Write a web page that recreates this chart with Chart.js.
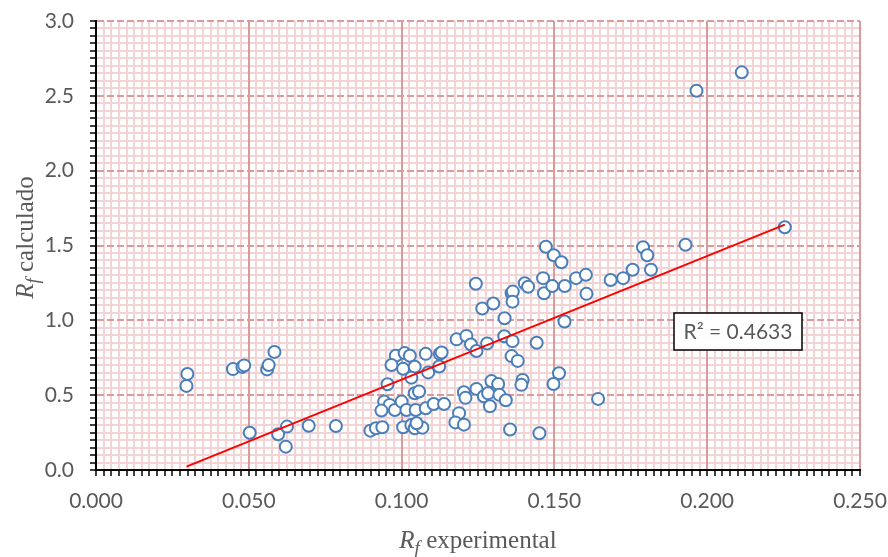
<!DOCTYPE html>
<html><head><meta charset="utf-8">
<script src="https://cdn.jsdelivr.net/npm/chart.js@4.4.0/dist/chart.umd.min.js"></script>
<style>html,body{margin:0;padding:0;background:#fff}#wrap{width:888px;height:557px;position:relative}</style>
</head><body><div id="wrap"><canvas id="c"></canvas></div>
<script>
// ---- data ----
const xExperimental = [
 0.0299,0.0296,0.0448,0.0479,0.0485,0.0503,0.0560,0.0565,0.0584,0.0596,
 0.0625,0.0621,0.0696,0.0785,0.0898,0.0916,0.0937,0.1005,0.1032,0.1043,
 0.1068,0.1049,0.0943,0.0961,0.0934,0.0978,0.1000,0.1016,0.1046,0.1079,
 0.1105,0.1139,0.1043,0.1057,0.0954,0.0981,0.1010,0.1027,0.1079,0.1125,
 0.1131,0.0967,0.1005,0.1043,0.1032,0.1087,0.1123,0.1180,0.1212,0.1227,
 0.1245,0.1280,0.1336,0.1363,0.1360,0.1380,0.1442,0.1188,0.1176,0.1204,
 0.1204,0.1209,0.1245,0.1269,0.1283,0.1294,0.1316,0.1320,0.1341,0.1289,
 0.1355,0.1396,0.1392,0.1451,0.1515,0.1497,0.1643,0.1243,0.1264,0.1300,
 0.1337,0.1360,0.1364,0.1363,0.1403,0.1414,0.1463,0.1466,0.1493,0.1534,
 0.1571,0.1603,0.1605,0.1684,0.1725,0.1756,0.1472,0.1498,0.1523,0.1790,
 0.1804,0.1816,0.1929,0.1965,0.2113,0.2254,0.1533
];
const yCalculado = [
 0.642,0.562,0.674,0.689,0.699,0.249,0.672,0.701,0.789,0.239,
 0.290,0.156,0.296,0.294,0.263,0.279,0.286,0.286,0.301,0.279,
 0.283,0.312,0.457,0.435,0.397,0.401,0.457,0.401,0.401,0.412,
 0.441,0.441,0.513,0.524,0.573,0.763,0.781,0.763,0.776,0.776,
 0.785,0.702,0.676,0.690,0.617,0.652,0.692,0.873,0.896,0.839,
 0.795,0.846,0.894,0.861,0.761,0.729,0.850,0.380,0.318,0.303,
 0.519,0.482,0.542,0.493,0.512,0.594,0.575,0.502,0.466,0.426,
 0.271,0.602,0.569,0.246,0.646,0.575,0.475,1.244,1.079,1.112,
 1.014,1.181,1.192,1.125,1.248,1.224,1.282,1.181,1.229,1.229,
 1.282,1.304,1.177,1.269,1.282,1.338,1.492,1.435,1.388,1.488,
 1.435,1.338,1.505,2.534,2.657,1.622,0.992
];
const xTickLabels = ['0.000','0.050','0.100','0.150','0.200','0.250'];
const yTickLabels = ['0.0','0.5','1.0','1.5','2.0','2.5','3.0'];
const r2Label = 'R\u00B2 = 0.4633';
const xTitleParts = ['R','f',' experimental'];
const yTitleParts = ['R','f',' calculado'];

// ---- linear trendline (least squares of the data) ----
const n = xExperimental.length;
const mx = xExperimental.reduce((a,b)=>a+b,0)/n;
const my = yCalculado.reduce((a,b)=>a+b,0)/n;
let sxy=0, sxx=0;
for (let i=0;i<n;i++){ sxy+=(xExperimental[i]-mx)*(yCalculado[i]-my); sxx+=(xExperimental[i]-mx)**2; }
const slope = sxy/sxx, intercept = my - slope*mx;
const xLo = Math.min(...xExperimental), xHi = Math.max(...xExperimental);
const trend = [{x:xLo,y:intercept+slope*xLo},{x:xHi,y:intercept+slope*xHi}];

const points = xExperimental.map((x,i)=>({x, y:yCalculado[i]}));

const MAJOR = '#dc9a9b', MINOR = '#f3d3d3', GRAY = '#595959';
const X_EVERY = 20, Y_EVERY = 10;

const minorGrid = {
  id:'minorGrid',
  beforeDraw(chart){
    const {ctx, chartArea:a, scales:{x,y}} = chart;
    ctx.save(); ctx.strokeStyle = MINOR; ctx.lineWidth = 2;
    x.ticks.forEach((t,i)=>{ if (i%X_EVERY===0) return;
      const p = Math.round(x.getPixelForValue(t.value));
      ctx.beginPath(); ctx.moveTo(p,a.top); ctx.lineTo(p,a.bottom); ctx.stroke(); });
    y.ticks.forEach((t,i)=>{ if (i%Y_EVERY===0) return;
      const p = Math.round(y.getPixelForValue(t.value));
      ctx.beginPath(); ctx.moveTo(a.left,p); ctx.lineTo(a.right,p); ctx.stroke(); });
    ctx.restore();
  }
};

function drawRf(ctx, parts){
  const big = '25px "Liberation Serif", "Times New Roman", serif';
  const sub = 'italic 19px "Liberation Serif", serif';
  ctx.font = 'italic '+big; const wR = ctx.measureText(parts[0]).width;
  ctx.font = sub; const wf = ctx.measureText(parts[1]).width;
  ctx.font = big; const wRest = ctx.measureText(parts[2]).width;
  const total = wR + wf + wRest;
  let s = -total/2;
  ctx.textBaseline = 'alphabetic'; ctx.textAlign = 'left'; ctx.fillStyle = GRAY;
  ctx.font = 'italic '+big; ctx.fillText(parts[0], s, 0);
  ctx.font = sub; ctx.fillText(parts[1], s+wR, 6);
  ctx.font = big; ctx.fillText(parts[2], s+wR+wf, 0);
}

const annotations = {
  id:'annotations',
  afterDraw(chart){
    const {ctx, chartArea:a} = chart;
    ctx.save();
    const bx = a.right - 186, by = a.top + 292, bw = 128, bh = 37;
    ctx.fillStyle = '#fff'; ctx.fillRect(bx,by,bw,bh);
    ctx.strokeStyle = '#000'; ctx.lineWidth = 1.5; ctx.strokeRect(bx,by,bw,bh);
    ctx.fillStyle = GRAY; ctx.font = '21px Lato, sans-serif';
    ctx.textAlign = 'center'; ctx.textBaseline = 'middle';
    ctx.fillText(r2Label, bx+bw/2, by+bh/2+1);
    ctx.restore();
    ctx.save(); ctx.translate((a.left+a.right)/2, a.bottom+78); drawRf(ctx, xTitleParts); ctx.restore();
    ctx.save(); ctx.translate(33, (a.top+a.bottom)/2 - 8); ctx.rotate(-Math.PI/2); drawRf(ctx, yTitleParts); ctx.restore();
  }
};

const tickFont = {family:'Lato, "Liberation Sans", sans-serif', size:21};

new Chart(document.getElementById('c'), {
  type:'scatter',
  data:{ datasets:[
    { label:'trend', data:trend, showLine:true, borderColor:'#ff0000', borderWidth:2,
      pointRadius:0, fill:false, order:0 },
    { label:'Rf', data:points, pointRadius:6, pointBorderWidth:2,
      pointBorderColor:'#4a7ebb', pointBackgroundColor:'#ffffff', order:1 }
  ]},
  options:{
    responsive:true, maintainAspectRatio:false, animation:false, events:[],
    layout:{ padding:{ left:0, right:28, top:21, bottom:0 } },
    plugins:{ legend:{display:false}, tooltip:{enabled:false} },
    scales:{
      x:{ type:'linear', position:'bottom', min:0, max:0.25,
        afterFit(s){ s.height = 87; s.paddingLeft = 0; s.paddingRight = 0; },
        ticks:{ stepSize:0.0025, autoSkip:false, maxRotation:0, minRotation:0, padding:13,
          color:GRAY, font:tickFont,
          callback:(v,i)=> i%X_EVERY===0 ? xTickLabels[i/X_EVERY] : '' },
        grid:{ lineWidth:2, tickLength:6, tickWidth:1.5, tickColor:'#000',
          color:(c)=> (c.index%X_EVERY===0 && c.index>0) ? MAJOR : 'rgba(0,0,0,0)' },
        border:{ color:'#000', width:2 }
      },
      y:{ type:'linear', position:'left', min:0, max:3,
        afterFit(s){ s.width = 96; s.paddingTop = 0; s.paddingBottom = 0; },
        ticks:{ stepSize:0.05, autoSkip:false, padding:16, color:GRAY, font:tickFont,
          callback:(v,i)=> i%Y_EVERY===0 ? yTickLabels[i/Y_EVERY] : '' },
        grid:{ lineWidth:2, tickLength:6, tickWidth:1.5, tickColor:'#000',
          color:(c)=> (c.index%Y_EVERY===0 && c.index>0) ? MAJOR : 'rgba(0,0,0,0)' },
        border:{ color:'#000', width:2,
          dash:(c)=> (c.tick && c.index%Y_EVERY===0) ? [7,3] : [] }
      }
    }
  },
  plugins:[minorGrid, annotations]
});
</script></body></html>
